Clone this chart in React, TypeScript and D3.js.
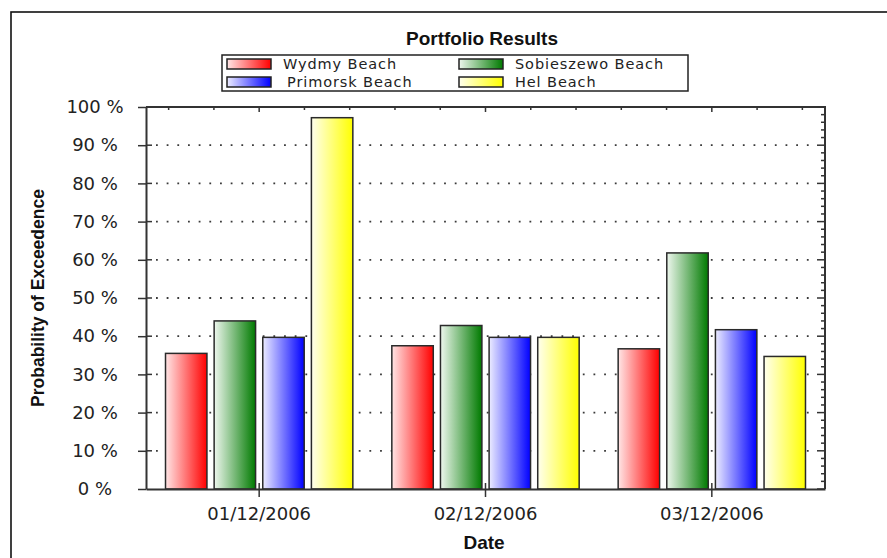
import React, { useRef, useEffect } from 'react';
import * as d3 from 'd3';

// chart data
const dates = ['01/12/2006', '02/12/2006', '03/12/2006'];
const seriesNames = ['Wydmy Beach', 'Sobieszewo Beach', 'Primorsk Beach', 'Hel Beach'];
const wydmy = [35.5, 37.5, 36.7];
const sobieszewo = [44, 42.8, 61.8];
const primorsk = [39.7, 39.7, 41.7];
const hel = [97.2, 39.7, 34.7];
const yTicks = [0, 10, 20, 30, 40, 50, 60, 70, 80, 90, 100];

const seriesValues = [wydmy, sobieszewo, primorsk, hel];
const gradients = [
  ['#ffe6e6', '#ff0000'],
  ['#eef7ee', '#007a00'],
  ['#ececff', '#0000ff'],
  ['#ffffee', '#ffff00'],
];

const W = 887;
const H = 558;
const plot = { left: 146, right: 825, top: 107, bottom: 489 };
const tickFont = '"DejaVu Sans", sans-serif';
const boldFont = '"Liberation Sans", Arial, sans-serif';

function App() {
  const svgRef = useRef(null);

  useEffect(() => {
    const svg = d3.select(svgRef.current);
    svg.selectAll('*').remove();

    // gradients for bars and legend swatches
    const defs = svg.append('defs');
    gradients.forEach((g, i) => {
      const lg = defs.append('linearGradient')
        .attr('id', `grad-${i}`)
        .attr('x1', '0%').attr('x2', '100%')
        .attr('y1', '0%').attr('y2', '0%');
      lg.append('stop').attr('offset', '0%').attr('stop-color', g[0]);
      lg.append('stop').attr('offset', '100%').attr('stop-color', g[1]);
    });

    svg.append('rect').attr('width', W).attr('height', H).attr('fill', '#ffffff');

    // outer frame (runs off the right and bottom edge)
    svg.append('rect')
      .attr('x', 11).attr('y', 12)
      .attr('width', 950).attr('height', 650)
      .attr('fill', 'none').attr('stroke', '#111').attr('stroke-width', 1.6);

    const x0 = d3.scaleBand()
      .domain(dates)
      .range([plot.left, plot.right])
      .paddingInner(0.1723)
      .paddingOuter(0.0862);

    const x1 = d3.scaleBand()
      .domain(seriesNames)
      .range([0, x0.bandwidth()])
      .paddingInner(0.148)
      .paddingOuter(0);

    const y = d3.scaleLinear().domain([0, 100]).range([plot.bottom, plot.top]);

    // dotted gridlines
    svg.append('g')
      .selectAll('line')
      .data(yTicks.filter(t => t > 0 && t < 100))
      .enter()
      .append('line')
      .attr('x1', plot.left + 10)
      .attr('x2', plot.right - 8)
      .attr('y1', d => y(d))
      .attr('y2', d => y(d))
      .attr('stroke', '#3a3a3a')
      .attr('stroke-width', 1.8)
      .attr('stroke-dasharray', '1.8 8.87');

    // bars
    const groups = svg.append('g')
      .selectAll('g')
      .data(dates)
      .enter()
      .append('g')
      .attr('transform', d => `translate(${x0(d)},0)`);

    groups.selectAll('rect')
      .data((d, i) => seriesNames.map((s, si) => ({ s, si, v: seriesValues[si][i] })))
      .enter()
      .append('rect')
      .attr('x', d => x1(d.s))
      .attr('y', d => y(d.v))
      .attr('width', x1.bandwidth())
      .attr('height', d => plot.bottom - y(d.v))
      .attr('fill', d => `url(#grad-${d.si})`)
      .attr('stroke', '#2a2a2a')
      .attr('stroke-width', 1.5);

    const axisColor = '#333';

    // left axis
    const left = svg.append('g')
      .attr('transform', `translate(${plot.left},0)`)
      .call(d3.axisLeft(y).tickValues(yTicks).tickSize(8).tickSizeOuter(0).tickFormat(d => `${d} %`));
    left.select('.domain').attr('stroke', axisColor).attr('stroke-width', 2);
    left.selectAll('.tick line').attr('stroke', axisColor).attr('stroke-width', 1.5);
    left.selectAll('.tick text')
      .attr('x', 95 - plot.left)
      .attr('text-anchor', 'middle')
      .style('font-family', tickFont)
      .style('font-size', '18px')
      .attr('fill', '#222');
    // inner stubs
    left.selectAll('.stub')
      .data(yTicks.filter(t => t > 0 && t < 100))
      .enter()
      .append('line')
      .attr('x1', 0).attr('x2', 6)
      .attr('y1', d => y(d)).attr('y2', d => y(d))
      .attr('stroke', axisColor).attr('stroke-width', 1.5);

    // bottom axis
    const bottom = svg.append('g')
      .attr('transform', `translate(0,${plot.bottom})`)
      .call(d3.axisBottom(x0).tickSize(8).tickSizeOuter(0));
    bottom.select('.domain').attr('stroke', axisColor).attr('stroke-width', 2);
    bottom.selectAll('.tick line').attr('y1', -6).attr('stroke', axisColor).attr('stroke-width', 1.5);
    bottom.selectAll('.tick text')
      .attr('y', 18)
      .style('font-family', tickFont)
      .style('font-size', '18px')
      .attr('fill', '#222');

    // top axis
    const top = svg.append('g');
    top.append('line')
      .attr('x1', plot.left).attr('x2', plot.right)
      .attr('y1', plot.top).attr('y2', plot.top)
      .attr('stroke', axisColor).attr('stroke-width', 2);
    const topTicks = [];
    dates.forEach(d => {
      const c = x0(d) + x0.bandwidth() / 2;
      [-2, -1, 0, 1, 2].forEach(j => topTicks.push({ x: c + (j * x0.step()) / 5, major: j === 0 }));
    });
    top.selectAll('.tt')
      .data(topTicks)
      .enter()
      .append('line')
      .attr('x1', d => d.x).attr('x2', d => d.x)
      .attr('y1', plot.top).attr('y2', d => plot.top + (d.major ? 5 : 3))
      .attr('stroke', axisColor).attr('stroke-width', 1.5);

    // right axis
    const right = svg.append('g');
    right.append('line')
      .attr('x1', plot.right).attr('x2', plot.right)
      .attr('y1', plot.top - 1).attr('y2', plot.bottom)
      .attr('stroke', axisColor).attr('stroke-width', 2);
    right.selectAll('.rt')
      .data(d3.range(0, 101, 2))
      .enter()
      .append('line')
      .attr('x1', plot.right)
      .attr('x2', d => plot.right - (d % 10 === 0 ? 8 : 4))
      .attr('y1', d => y(d)).attr('y2', d => y(d))
      .attr('stroke', axisColor).attr('stroke-width', 1.5);

    // titles
    svg.append('text')
      .attr('x', 482).attr('y', 45)
      .attr('text-anchor', 'middle')
      .style('font-family', boldFont)
      .style('font-weight', 'bold')
      .style('font-size', '19px')
      .attr('fill', '#111')
      .text('Portfolio Results');

    svg.append('text')
      .attr('transform', `translate(44,${(plot.top + plot.bottom) / 2}) rotate(-90)`)
      .attr('text-anchor', 'middle')
      .style('font-family', boldFont)
      .style('font-weight', 'bold')
      .style('font-size', '17.5px')
      .attr('fill', '#111')
      .text('Probability of Exceedence');

    svg.append('text')
      .attr('x', 484).attr('y', 549)
      .attr('text-anchor', 'middle')
      .style('font-family', boldFont)
      .style('font-weight', 'bold')
      .style('font-size', '19px')
      .attr('fill', '#111')
      .text('Date');

    // legend
    const legend = svg.append('g');
    legend.append('rect')
      .attr('x', 222).attr('y', 55)
      .attr('width', 466).attr('height', 36)
      .attr('fill', '#fff')
      .attr('stroke', '#222').attr('stroke-width', 1.5);
    const items = legend.selectAll('.item')
      .data(seriesNames)
      .enter()
      .append('g')
      .attr('transform', (d, i) => `translate(${i % 2 === 0 ? 227 : 459},${i < 2 ? 59 : 77})`);
    items.append('rect')
      .attr('width', 44).attr('height', 10)
      .attr('fill', (d, i) => `url(#grad-${i})`)
      .attr('stroke', '#222').attr('stroke-width', 1.5);
    items.append('text')
      .attr('x', (d, i) => (i === 2 ? 60 : 56)).attr('y', 5)
      .attr('dominant-baseline', 'central')
      .style('font-family', tickFont)
      .style('font-size', '14.5px')
      .style('letter-spacing', '0.9px')
      .attr('fill', '#222')
      .text(d => d);
  }, []);

  return (
    <div style={{ position: 'absolute', left: 0, top: 0 }}>
      <svg ref={svgRef} width={W} height={H} style={{ display: 'block' }}></svg>
    </div>
  );
}

export default App;
